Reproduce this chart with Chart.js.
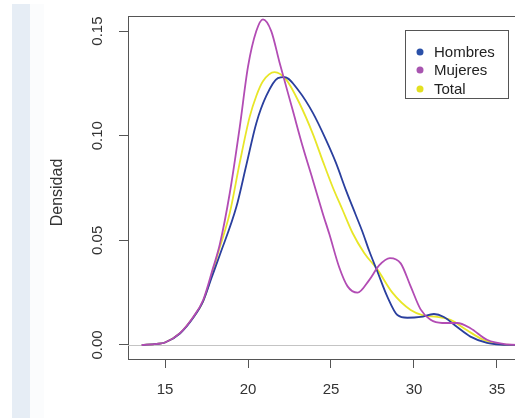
<!DOCTYPE html>
<html>
<head>
<meta charset="utf-8">
<script src="https://cdn.jsdelivr.net/npm/chart.js@4"></script>
<style>
html,body{margin:0;padding:0;background:#fff;}
#wrap{position:relative;width:515px;height:418px;overflow:hidden;background:#fff;}
#strip{position:absolute;left:12px;top:4px;width:18px;height:414px;background:#e6edf5;}
#strip2{position:absolute;left:30px;top:4px;width:14px;height:414px;background:#fbfcfd;}
canvas{position:absolute;left:0;top:0;}
</style>
</head>
<body>
<div id="wrap"><div id="strip"></div><div id="strip2"></div><canvas id="c" width="535" height="418"></canvas></div>
<script>
// ---- data ----
const yTickValues = [0, 0.05, 0.10, 0.15];
const yTickLabels = ["0.00", "0.05", "0.10", "0.15"];
const xTickValues = [15, 20, 25, 30, 35];
const xTickLabels = ["15", "20", "25", "30", "35"];
const yTitle = "Densidad";
const seriesNames = ["Hombres", "Mujeres", "Total"];

const hombresX = [13.6, 14.5, 15.0, 15.9, 16.7, 17.3, 17.8, 18.3, 19.3, 19.9, 20.5, 21.1, 21.8, 22.2, 23.1, 23.9, 24.7, 25.3, 25.9, 26.5, 26.9, 27.3, 27.8, 28.4, 29.0, 29.6, 30.4, 31.2, 31.8, 32.6, 33.4, 34.4, 35.2, 36.5];
const hombresY = [0, 0.0005, 0.0012, 0.0055, 0.013, 0.021, 0.032, 0.043, 0.066, 0.086, 0.106, 0.119, 0.1275, 0.128, 0.121, 0.111, 0.098, 0.087, 0.074, 0.062, 0.054, 0.045, 0.035, 0.023, 0.0143, 0.013, 0.0134, 0.0148, 0.0134, 0.0086, 0.004, 0.001, 0.0002, 0];

const mujeresX = [13.6, 14.5, 15.0, 15.9, 16.7, 17.3, 17.9, 18.3, 18.9, 19.5, 20.0, 20.5, 20.9, 21.4, 21.9, 22.7, 23.3, 23.9, 24.5, 24.9, 25.5, 26.0, 26.6, 27.3, 27.9, 28.55, 29.2, 29.8, 30.4, 31.0, 31.7, 32.6, 33.4, 34.4, 35.6, 36.5];
const mujeresY = [0, 0.0005, 0.0012, 0.0057, 0.0134, 0.0215, 0.037, 0.048, 0.0725, 0.104, 0.133, 0.150, 0.1556, 0.150, 0.135, 0.112, 0.0947, 0.079, 0.063, 0.053, 0.037, 0.028, 0.025, 0.031, 0.038, 0.0415, 0.039, 0.028, 0.017, 0.012, 0.0105, 0.0105, 0.008, 0.0025, 0.0003, 0];

const totalX = [13.6, 14.5, 15.0, 15.9, 16.7, 17.3, 17.8, 18.2, 18.9, 19.5, 20.1, 20.5, 20.9, 21.6, 22.3, 23.1, 23.9, 24.5, 25.1, 25.7, 26.3, 27.0, 27.8, 28.7, 29.8, 30.5, 31.4, 32.2, 33.2, 34.2, 35.2, 36.5];
const totalY = [0, 0.0005, 0.0012, 0.0056, 0.0132, 0.021, 0.033, 0.044, 0.063, 0.087, 0.109, 0.119, 0.126, 0.1304, 0.1268, 0.1155, 0.101, 0.088, 0.0755, 0.0645, 0.0535, 0.044, 0.036, 0.025, 0.0167, 0.0143, 0.0134, 0.012, 0.007, 0.0024, 0.0003, 0];

const lineColors = ["#2a3f9e", "#b24cb4", "#e8e628"];
const dotColors = ["#2a50a8", "#a855b0", "#e3e020"];

function pts(xs, ys){ return xs.map((x,i)=>({x:x, y:ys[i]})); }

const FONT = "'Liberation Sans', Arial, sans-serif";

const decor = {
  id: 'decor',
  beforeDatasetsDraw(chart){
    const ctx = chart.ctx, a = chart.chartArea, ys = chart.scales.y;
    ctx.save();
    ctx.strokeStyle = '#c4c4c4'; ctx.lineWidth = 1;
    const y0 = Math.round(ys.getPixelForValue(0)) + 0.5;
    ctx.beginPath(); ctx.moveTo(a.left, y0); ctx.lineTo(a.right, y0); ctx.stroke();
    ctx.restore();
  },
  afterDraw(chart){
    const ctx = chart.ctx, a = chart.chartArea, ys = chart.scales.y;
    ctx.save();
    ctx.strokeStyle = '#555'; ctx.lineWidth = 1;
    ctx.beginPath(); ctx.moveTo(a.left, a.top + 0.5); ctx.lineTo(a.right, a.top + 0.5); ctx.stroke();
    ctx.beginPath(); ctx.moveTo(a.right - 0.5, a.top); ctx.lineTo(a.right - 0.5, a.bottom); ctx.stroke();
    ctx.fillStyle = '#333';
    ctx.font = '15px ' + FONT;
    ctx.textAlign = 'center'; ctx.textBaseline = 'middle';
    yTickValues.forEach((v,i)=>{
      const py = ys.getPixelForValue(v);
      ctx.save(); ctx.translate(98, py); ctx.rotate(-Math.PI/2);
      ctx.fillText(yTickLabels[i], 0, 0); ctx.restore();
    });
    ctx.font = '16px ' + FONT;
    ctx.save(); ctx.translate(58, (a.top + a.bottom)/2 + 5); ctx.rotate(-Math.PI/2);
    ctx.fillText(yTitle, 0, 0); ctx.restore();
    const lx = 405, ly = 30, lw = 103, lh = 68;
    ctx.fillStyle = '#fff'; ctx.fillRect(lx, ly, lw, lh);
    ctx.strokeStyle = '#555'; ctx.strokeRect(lx + 0.5, ly + 0.5, lw, lh);
    ctx.font = '15px ' + FONT; ctx.textAlign = 'left';
    const rows = [52, 70, 89];
    seriesNames.forEach((n,i)=>{
      ctx.fillStyle = dotColors[i];
      ctx.beginPath(); ctx.arc(420, rows[i], 3.5, 0, Math.PI*2); ctx.fill();
      ctx.fillStyle = '#222';
      ctx.fillText(n, 434, rows[i] + 1);
    });
    ctx.restore();
  }
};

new Chart(document.getElementById('c'), {
  type: 'line',
  data: {
    datasets: [
      {label: seriesNames[1], data: pts(mujeresX, mujeresY), borderColor: lineColors[1]},
      {label: seriesNames[0], data: pts(hombresX, hombresY), borderColor: lineColors[0]},
      {label: seriesNames[2], data: pts(totalX, totalY), borderColor: lineColors[2]}
    ].map(d => Object.assign(d, {borderWidth: 1.8, pointRadius: 0, fill: false, cubicInterpolationMode: 'monotone'}))
  },
  options: {
    responsive: false,
    devicePixelRatio: 1,
    animation: false,
    events: [],
    layout: {padding: {top: 16, right: 5, left: 0, bottom: 0}},
    plugins: {legend: {display: false}, tooltip: {enabled: false}},
    scales: {
      x: {
        type: 'linear', min: 12.77, max: 36.99,
        afterBuildTicks: s => { s.ticks = xTickValues.map(v => ({value: v})); },
        afterFit: s => { s.height = 59; },
        ticks: {
          color: '#333', font: {size: 15, family: FONT}, padding: 13,
          maxRotation: 0, autoSkip: false,
          callback: (v) => xTickLabels[xTickValues.indexOf(v)]
        },
        grid: {drawOnChartArea: false, drawTicks: true, tickLength: 9, color: '#555'},
        border: {color: '#555', width: 1}
      },
      y: {
        type: 'linear', min: -0.0067, max: 0.1572,
        afterBuildTicks: s => { s.ticks = yTickValues.map(v => ({value: v})); },
        afterFit: s => { s.width = 128; },
        ticks: {display: false},
        grid: {drawOnChartArea: false, drawTicks: true, tickLength: 9, color: '#555'},
        border: {color: '#555', width: 1}
      }
    }
  },
  plugins: [decor]
});
</script>
</body>
</html>
